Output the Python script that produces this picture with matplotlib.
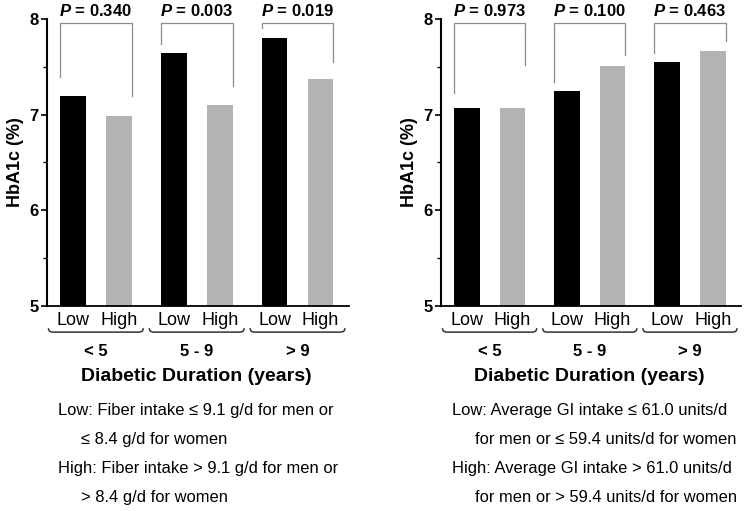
import numpy as np
import matplotlib.pyplot as plt
from matplotlib.lines import Line2D

plt.rcParams['font.family'] = ['Liberation Sans', 'DejaVu Sans']
plt.rcParams['mathtext.fontset'] = 'custom'
plt.rcParams['mathtext.it'] = 'Liberation Sans:italic:bold'

# --- data ---
durations = ['< 5', '5 - 9', '> 9']
levels = ['Low', 'High']

fiber_low = [7.20, 7.64, 7.80]
fiber_high = [6.99, 7.10, 7.37]
fiber_p = ['0.340', '0.003', '0.019']
fiber_legs = [(7.39, 7.19), (7.74, 7.30), (7.91, 7.55)]

gi_low = [7.07, 7.25, 7.55]
gi_high = [7.07, 7.51, 7.665]
gi_p = ['0.973', '0.100', '0.463']
gi_legs = [(7.23, 7.52), (7.34, 7.62), (7.645, 7.77)]

fiber_notes = ['Low: Fiber intake \u2264 9.1 g/d for men or',
               '\u2264 8.4 g/d for women',
               'High: Fiber intake > 9.1 g/d for men or',
               '> 8.4 g/d for women']
gi_notes = ['Low: Average GI intake \u2264 61.0 units/d',
            'for men or \u2264 59.4 units/d for women',
            'High: Average GI intake > 61.0 units/d',
            'for men or > 59.4 units/d for women']

fig = plt.figure(figsize=(7.48, 5.11), dpi=100)

OFF = 0.228
W = 0.255


def draw_panel(ax, low, high, pvals, legs):
    x = np.arange(len(durations))
    ax.bar(x - OFF, low, W, color='black', zorder=2)
    ax.bar(x + OFF, high, W, color='#b3b3b3', zorder=2)
    ax.set_ylim(5, 8)
    ax.set_xlim(-0.485, 2.51)
    ax.set_yticks([5, 6, 7, 8])
    ax.set_yticks([5.5, 6.5, 7.5], minor=True)
    ax.tick_params(axis='y', which='major', length=4, width=1.2, labelsize=12, pad=2)
    ax.tick_params(axis='y', which='minor', length=3, width=1.0)
    for lab in ax.get_yticklabels():
        lab.set_fontweight('bold')
    ax.set_xticks(np.concatenate([x - OFF, x + OFF]))
    ax.set_xticklabels(levels[:1] * 3 + levels[1:] * 3, fontsize=13)
    ax.tick_params(axis='x', length=0, pad=4.5)
    for s in ['top', 'right']:
        ax.spines[s].set_visible(False)
    ax.spines['left'].set_linewidth(1.5)
    ax.spines['bottom'].set_linewidth(1.3)
    ax.set_ylabel('HbA1c (%)', fontsize=13, fontweight='bold', labelpad=4)

    # significance brackets
    top = 7.96
    for i, (l_end, r_end) in enumerate(legs):
        xl = x[i] - OFF - W / 2
        xr = x[i] + OFF + W / 2
        ax.plot([xl, xl, xr, xr], [l_end, top, top, r_end], color='#8c8c8c',
                lw=0.9, clip_on=False, zorder=3)
        ax.text((xl + xr) / 2, 8.005, '$\\it{P}$ = ' + pvals[i], fontsize=12,
                fontweight='bold', ha='center', va='bottom')

    # group underline brackets and labels
    trans = ax.get_xaxis_transform()
    for i, name in enumerate(durations):
        x0, x1 = x[i] - 0.47, x[i] + 0.47
        xs = [x0, x0 + 0.01, x0 + 0.035, x1 - 0.035, x1 - 0.01, x1]
        ys = [-0.080, -0.088, -0.091, -0.091, -0.088, -0.080]
        ax.add_line(Line2D(xs, ys, color='#333333', lw=1.1, transform=trans,
                           clip_on=False))
        ax.text(x[i], -0.16, name, transform=trans, ha='center', va='center',
                fontsize=12, fontweight='bold')
    ax.text(1.0, -0.245, 'Diabetic Duration (years)', transform=trans,
            ha='center', va='center', fontsize=14, fontweight='bold')


ax1 = fig.add_axes([0.0628, 0.4012, 0.4037, 0.5616])
draw_panel(ax1, fiber_low, fiber_high, fiber_p, fiber_legs)
ax2 = fig.add_axes([0.5896, 0.4012, 0.4011, 0.5616])
draw_panel(ax2, gi_low, gi_high, gi_p, gi_legs)

# footnotes
note_y = [410, 439, 468, 497]
for j, t in enumerate(fiber_notes):
    xp = 58 if j % 2 == 0 else 81
    fig.text(xp / 748, 1 - note_y[j] / 511, t, fontsize=11.9, va='center', ha='left')
for j, t in enumerate(gi_notes):
    xp = 452 if j % 2 == 0 else 475
    fig.text(xp / 748, 1 - note_y[j] / 511, t, fontsize=11.9, va='center', ha='left')

fig.savefig('out.png', dpi=100)
